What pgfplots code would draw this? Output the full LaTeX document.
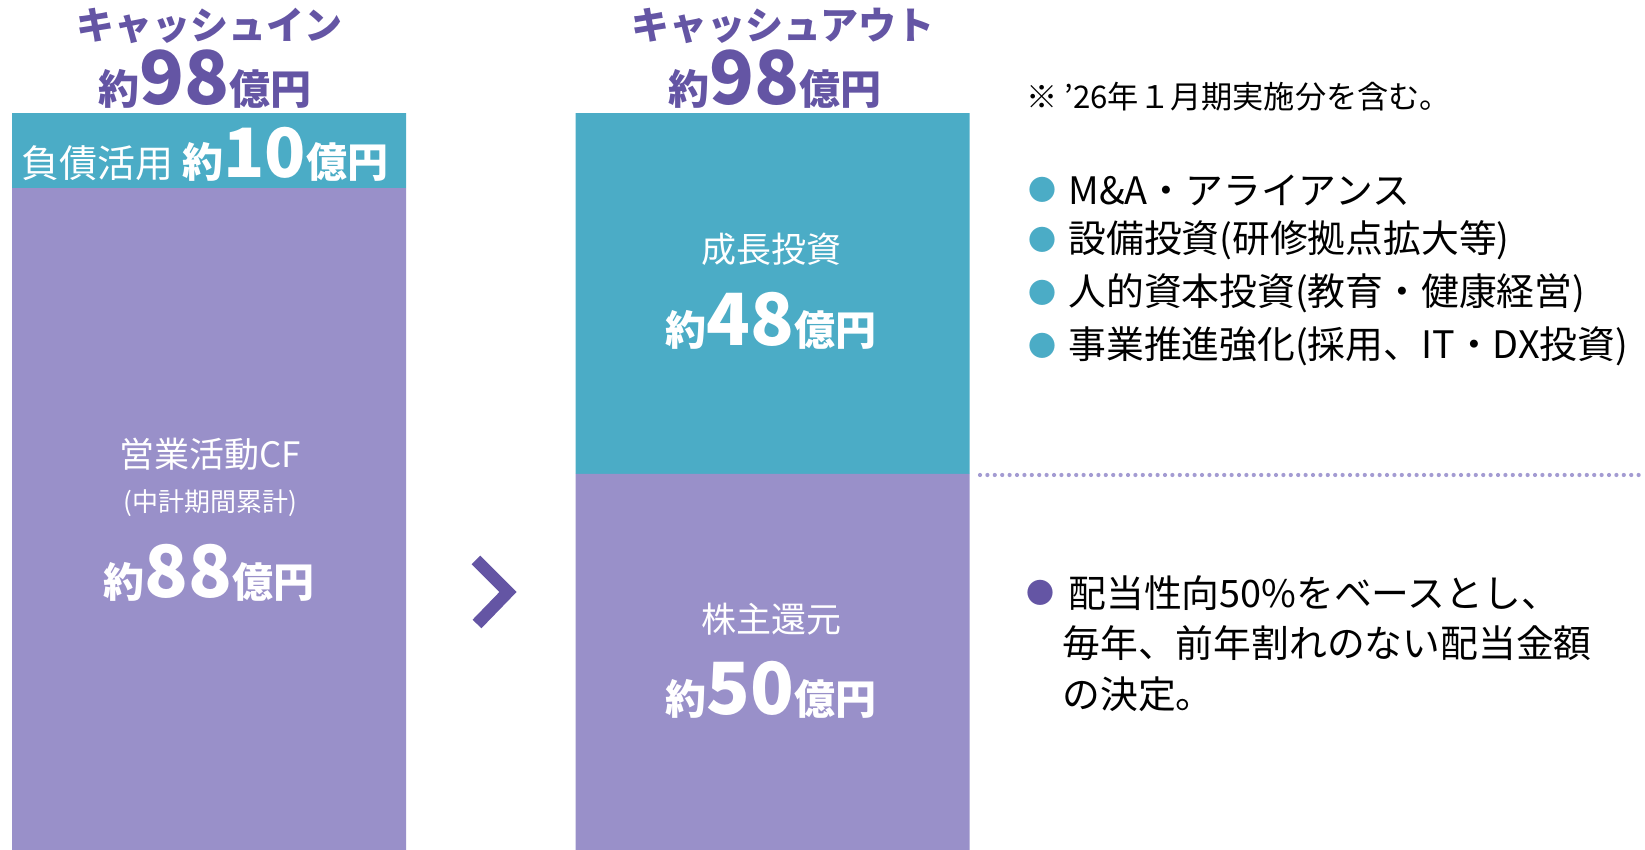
\documentclass[border=0pt]{standalone}
\usepackage{pgfplots}
\pgfplotsset{compat=1.18}
\usepackage{fontspec}
\setmainfont{Noto Sans CJK JP}
\definecolor{teal}{HTML}{4BACC6}
\definecolor{lpurple}{HTML}{9990C9}
\definecolor{dpurple}{HTML}{6455A4}
\definecolor{dotc}{HTML}{A39BD2}
\newcommand{\fs}[1]{\fontsize{#1}{#1}\selectfont}
\begin{document}
\begin{tikzpicture}
\begin{axis}[name=ax, scale only axis, width=822.5pt, height=425pt,
  hide axis, ybar stacked, bar width=197pt,
  xmin=-0.3709, xmax=2.5483, ymin=0, ymax=113.03, clip=false]
\addplot[fill=lpurple, draw=none] coordinates {(0,88) (1,50)};
\addplot[fill=teal, draw=none] coordinates {(0,10) (1,48)};
\end{axis}
\begin{scope}[shift={(ax.north west)}, x=0.5pt, y=-0.5pt, every node/.style={inner sep=0pt}]
% headings
\node[text=dpurple, font=\bfseries\fs{19}] at (209,26) {キャッシュイン};
\node[text=dpurple, font=\bfseries\fs{20.5}] at (205,79) {約{\fs{37}98}億円};
\node[text=dpurple, font=\bfseries\fs{19}] at (783,26) {キャッシュアウト};
\node[text=dpurple, font=\bfseries\fs{20.5}] at (775,79) {約{\fs{37}98}億円};
% left bar labels
\node[text=white, font=\fs{19}] at (205,154) {負債活用 {\bfseries\fs{20.5}約{\fs{34}10}億円}};
\node[text=white, font=\fs{17.5}] at (210,454) {営業活動CF};
\node[text=white, font=\fs{13}] at (210,503) {(中計期間累計)};
\node[text=white, font=\bfseries\fs{20.5}] at (209,573) {約{\fs{36}88}億円};
% right bar labels
\node[text=white, font=\fs{17.5}] at (771,249) {成長投資};
\node[text=white, font=\bfseries\fs{20.5}] at (771,321) {約{\fs{36}48}億円};
\node[text=white, font=\fs{17.5}] at (771,619) {株主還元};
\node[text=white, font=\bfseries\fs{20.5}] at (771,690) {約{\fs{36}50}億円};
% chevron
\draw[dpurple, line width=6.15pt, line join=miter, line cap=butt] (476,560)--(508,592)--(477,624);
% dotted separator
\draw[dotc, line width=2.1pt, line cap=round, dash pattern=on 0pt off 3.7pt] (980,475)--(1645,475);
% right-hand text
\node[anchor=west, font=\fs{15.6}] at (1026,97) {※ ’26年１月期実施分を含む。};
\foreach \yy/\tt in {190/{M\&A・アライアンス}, 240/{設備投資(研修拠点拡大等)}, 293/{人的資本投資(教育・健康経営)}, 346/{事業推進強化(採用、IT・DX投資)}}{
  \node[text=teal, font=\fs{14}] at (1042,\yy) {●};
  \node[anchor=west, font=\fs{18.9}] at (1068,\yy) {\tt};
}
\node[text=dpurple, font=\fs{14}] at (1040,593) {●};
\node[anchor=west, font=\fs{18.9}] at (1068,593) {配当性向50\%をベースとし、};
\node[anchor=west, font=\fs{18.9}] at (1062,643) {毎年、前年割れのない配当金額};
\node[anchor=west, font=\fs{18.9}] at (1062,694) {の決定。};
\end{scope}
\pgfresetboundingbox
\path (ax.south west) rectangle (ax.north east);
\end{tikzpicture}
\end{document}
